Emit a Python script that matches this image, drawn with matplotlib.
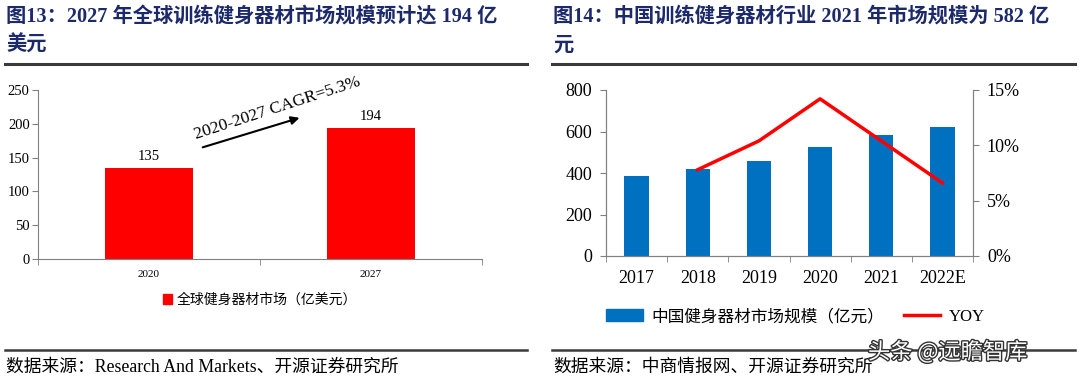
import matplotlib
matplotlib.use("Agg")
import matplotlib.pyplot as plt
import matplotlib.patheffects as pe
from matplotlib.lines import Line2D
from matplotlib.patches import Patch

plt.rcParams['font.family'] = ['Liberation Serif', 'Noto Sans CJK SC']

# ---------------- data ----------------
global_years = ['2020', '2027']
global_size = [135, 194]

cn_years = ['2017', '2018', '2019', '2020', '2021', '2022E']
cn_size = [385, 417, 460, 523, 582, 620]
cn_yoy = [None, 7.8, 10.4, 14.2, 10.4, 6.6]

TITLE_L1 = "图13：2027 年全球训练健身器材市场规模预计达 194 亿"
TITLE_L2 = "美元"
TITLE_R1 = "图14：中国训练健身器材行业 2021 年市场规模为 582 亿"
TITLE_R2 = "元"
SRC_L = "数据来源：Research And Markets、开源证券研究所"
SRC_R = "数据来源：中商情报网、开源证券研究所"

NAVY = '#1c2a6b'
RED = '#ff0000'
BLUE = '#0070c0'
W, H = 1080, 384

fig = plt.figure(figsize=(W / 100, H / 100), dpi=100)


def px(x0, y0, x1, y1):
    # pixel box (top-left origin) -> figure fraction rect
    return [x0 / W, 1 - y1 / H, (x1 - x0) / W, (y1 - y0) / H]


def hline(x0, x1, y, lw=2.2):
    fig.add_artist(Line2D([x0 / W, x1 / W], [1 - y / H, 1 - y / H],
                          color='#3a3a3a', lw=lw, transform=fig.transFigure))


# titles
for x, l1, l2 in [(6, TITLE_L1, TITLE_L2), (553, TITLE_R1, TITLE_R2)]:
    fig.text(x / W, 1 - 17 / H, l1, fontsize=14.6, fontweight='bold', color=NAVY, va='center',
             family=['Liberation Serif', 'Noto Sans CJK SC'])
    fig.text(x / W, 1 - 46 / H, l2, fontsize=14.6, fontweight='bold', color=NAVY, va='center',
             family=['Liberation Serif', 'Noto Sans CJK SC'])
hline(5, 527, 64)
hline(552, 1075, 64)
hline(5, 527, 350, lw=1.8)
hline(552, 1075, 350, lw=1.8)
fig.text(6 / W, 1 - 367 / H, SRC_L, fontsize=12.8, va='center')
fig.text(553 / W, 1 - 367 / H, SRC_R, fontsize=12.8, va='center')

# ---------------- left chart ----------------
ax = fig.add_axes(px(38, 90, 482, 259))
xs = range(len(global_years))
ax.bar(xs, global_size, width=0.4, color=RED)
for i, v in zip(xs, global_size):
    ax.text(i, v + 7, str(v), ha='center', va='bottom', fontsize=10.5)
ax.set_xlim(-0.5, 1.5)
ax.set_ylim(0, 250)
ax.set_yticks(range(0, 251, 50))
ax.set_xticks(list(xs))
ax.set_xticklabels(global_years, fontsize=8)
ax.set_xticks([-0.5, 0.5, 1.5], minor=True)
ax.tick_params(axis='x', which='major', length=0, pad=8)
ax.tick_params(axis='x', which='minor', length=4, direction='out', color='#808080')
ax.tick_params(axis='y', labelsize=10.5, length=4, direction='out', color='#808080', pad=2)
for s in ['top', 'right']:
    ax.spines[s].set_visible(False)
for s in ['left', 'bottom']:
    ax.spines[s].set_color('#808080')
ax.annotate('', xy=(0.69, 210), xytext=(0.23, 164),
            arrowprops=dict(arrowstyle='-|>', color='black', lw=1.5, mutation_scale=12))
ax.text(0.577, 223, '2020-2027 CAGR=5.3%', rotation=18, ha='center', va='center', fontsize=12.5)
ax.legend(handles=[Patch(color=RED)], labels=['全球健身器材市场（亿美元）'],
          loc='center left', bbox_to_anchor=(150 / W, 1 - 300 / H), bbox_transform=fig.transFigure,
          frameon=False, handlelength=0.7, handleheight=0.7, handletextpad=0.3,
          prop={'family': ['Noto Sans CJK SC'], 'size': 10})

# ---------------- right chart ----------------
ax2 = fig.add_axes(px(606, 90, 973, 256))
xs2 = list(range(len(cn_years)))
ax2.bar(xs2, cn_size, width=0.4, color=BLUE)
ax2.set_xlim(-0.5, len(cn_years) - 0.5)
ax2.set_ylim(0, 800)
ax2.set_yticks(range(0, 801, 200))
ax2.set_xticks(xs2)
ax2.set_xticklabels(cn_years)
ax2.set_xticks([i - 0.5 for i in range(len(cn_years) + 1)], minor=True)
ax2.tick_params(axis='x', which='major', length=0, labelsize=13, pad=10)
ax2.tick_params(axis='x', which='minor', length=4, direction='out', color='#808080')
ax2.tick_params(axis='y', labelsize=13, length=4, direction='out', color='#808080', pad=6)
ax2.spines['top'].set_visible(False)
for s in ['left', 'bottom', 'right']:
    ax2.spines[s].set_color('#808080')

ax3 = ax2.twinx()
yx = [i for i, v in zip(xs2, cn_yoy) if v is not None]
yv = [v for v in cn_yoy if v is not None]
ax3.plot(yx, yv, color=RED, lw=2.5)
ax3.set_ylim(0, 15)
ax3.set_yticks(range(0, 16, 5))
ax3.set_yticklabels([f'{t}%' for t in range(0, 16, 5)])
ax3.tick_params(axis='y', labelsize=13, length=4, direction='out', color='#808080', pad=6)
ax3.spines['top'].set_visible(False)
for s in ['left', 'bottom', 'right']:
    ax3.spines[s].set_color('#808080')

fig.legend(handles=[Patch(color=BLUE), Line2D([], [], color=RED, lw=2.5)],
           labels=['中国健身器材市场规模（亿元）', 'YOY'],
           loc='center left', bbox_to_anchor=(591 / W, 1 - 317 / H), ncol=2,
           frameon=False, handlelength=2.2, handleheight=0.7, handletextpad=0.5, columnspacing=1.2,
           prop={'family': ['Liberation Serif', 'Noto Sans CJK SC'], 'size': 12})

# watermark
fig.text(868 / W, 1 - 352 / H, '头条 @远瞻智库', fontsize=16, color='white', va='center',
         family=['Noto Sans CJK SC'],
         path_effects=[pe.withStroke(linewidth=2, foreground='#333333')])

fig.savefig('out.png', dpi=100)
